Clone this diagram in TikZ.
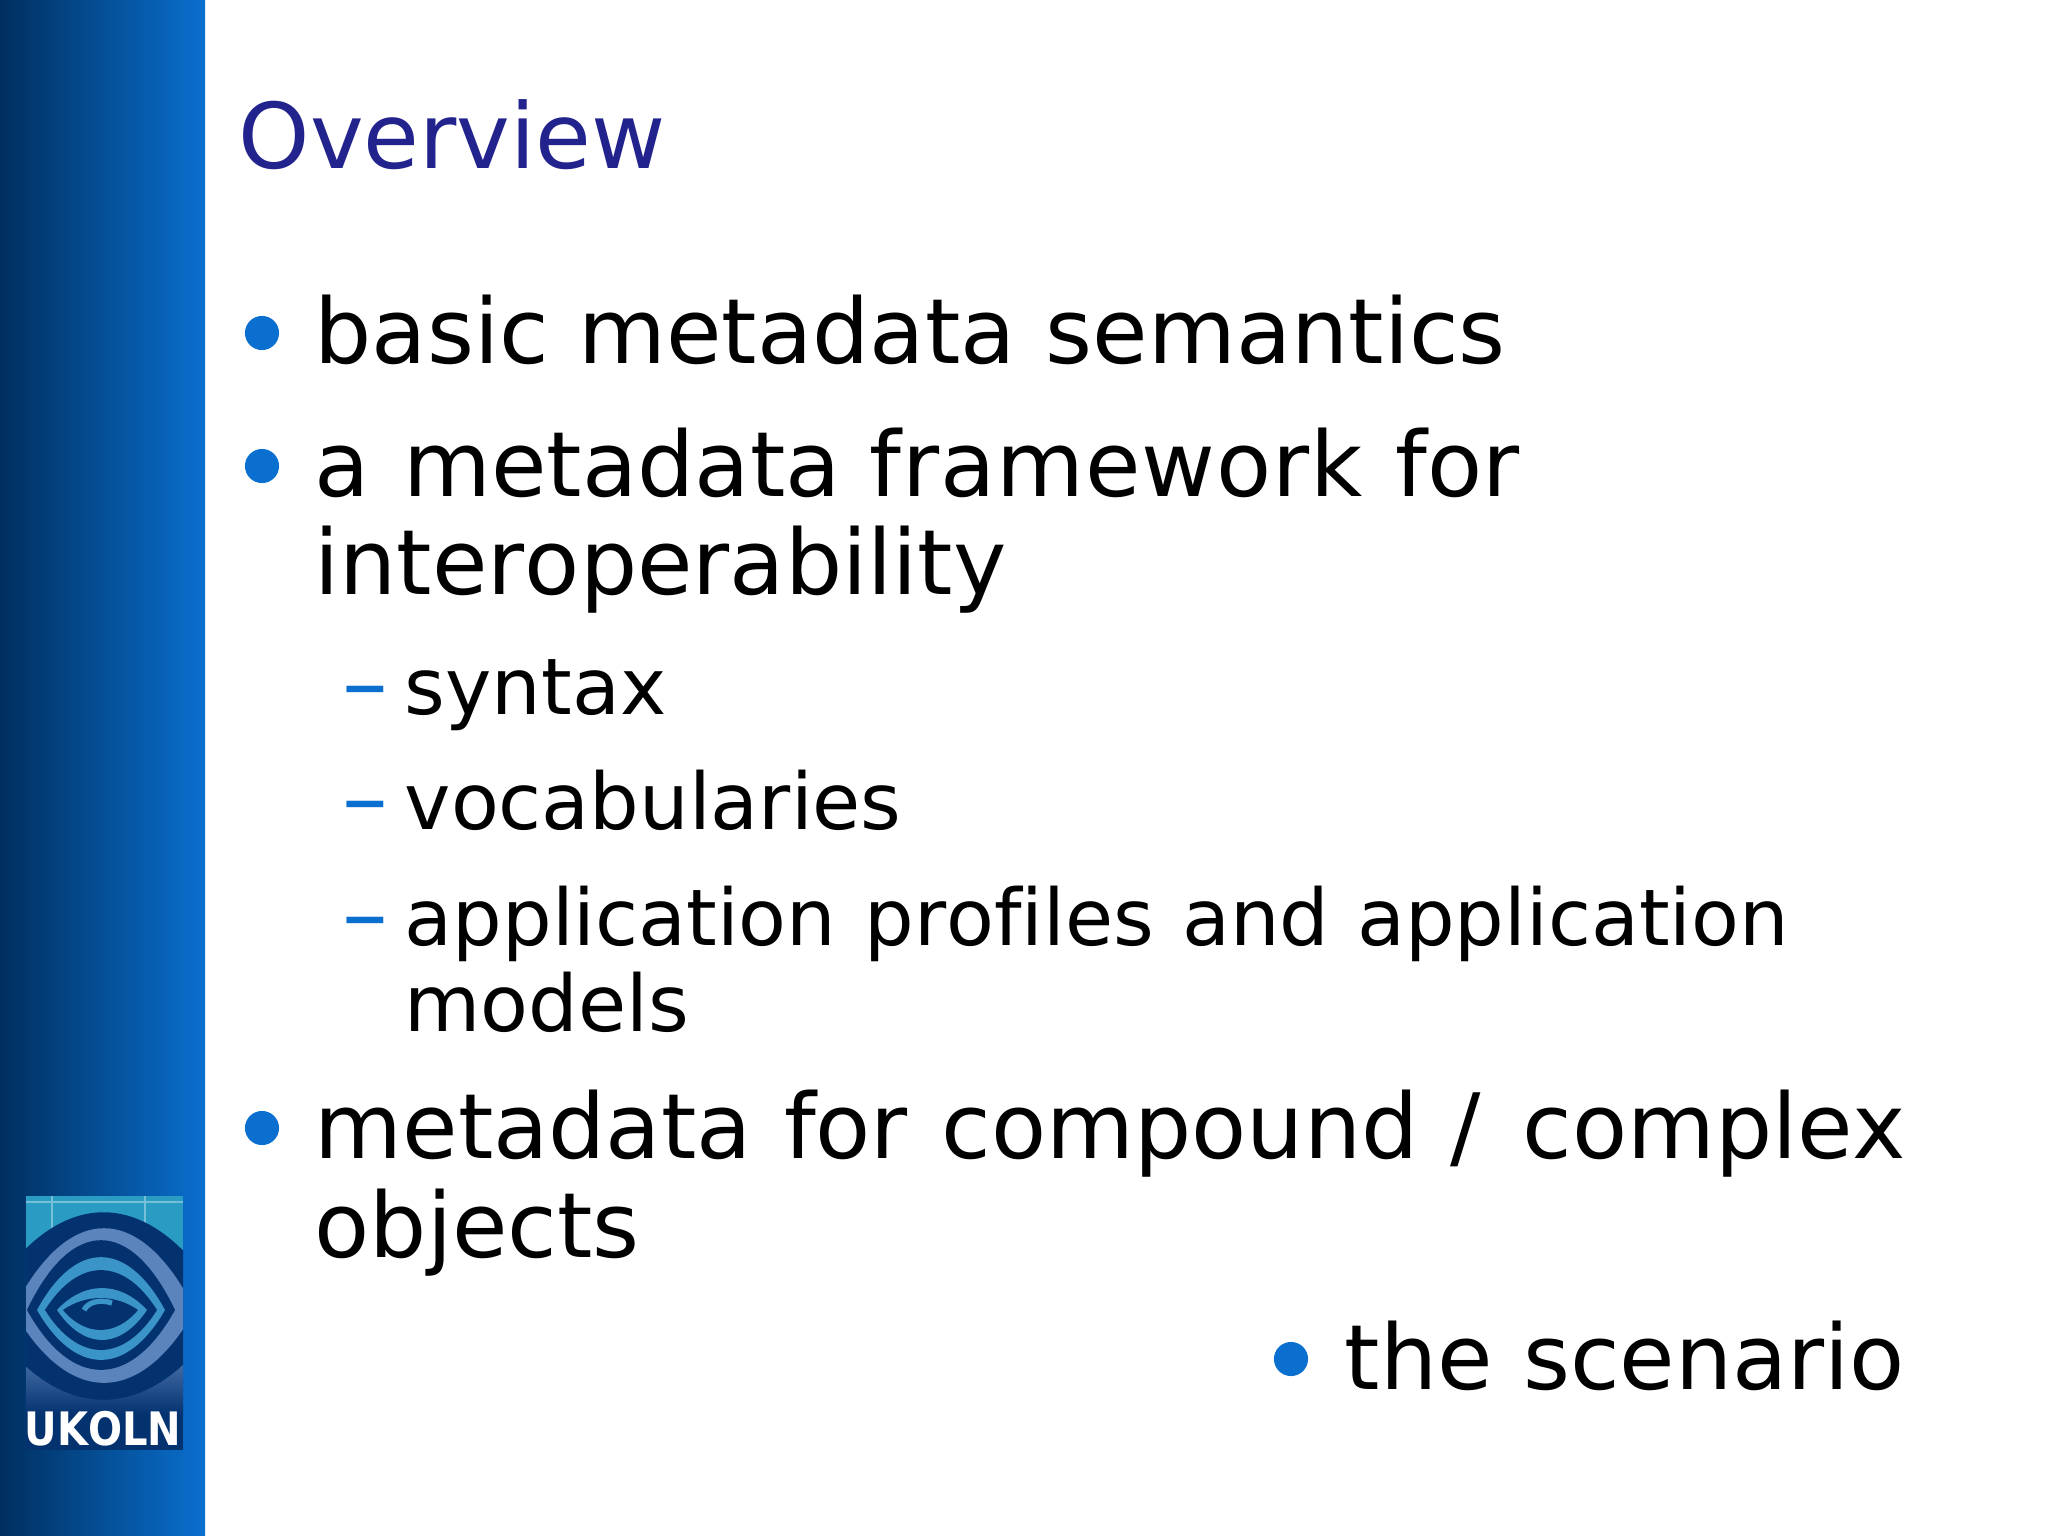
\documentclass[tikz,border=0pt]{standalone}
\usepackage{fontspec}
\setmainfont{DejaVu Sans}[Kerning=Off,Ligatures=NoCommon]
\newfontfamily\subitemfont{DejaVu Sans}[Kerning=Off,Ligatures=NoCommon,WordSpace=1.125]
\definecolor{titleblue}{HTML}{23238E}
\definecolor{bulletblue}{HTML}{0A6FCE}
\definecolor{sidedark}{HTML}{002F5F}
\definecolor{sidemid}{HTML}{04528F}
\definecolor{eyedark}{HTML}{04326F}
\definecolor{eyelight}{HTML}{3A94C8}
\definecolor{eyegrey}{HTML}{5C84BC}
\definecolor{eyeteal}{HTML}{2A9CC4}
\tikzset{
  headline/.style={anchor=base west, inner sep=0pt, text=titleblue, font=\fontsize{25.8pt}{25.8pt}\selectfont},
  mainitem/.style={anchor=base west, inner sep=0pt, font=\fontsize{25.65pt}{25.65pt}\selectfont},
  subitem/.style={anchor=base west, inner sep=0pt, font=\subitemfont\fontsize{22.25pt}{22.25pt}\selectfont},
  subdash/.style={anchor=base west, inner sep=0pt, text=bulletblue, font=\fontsize{26pt}{26pt}\selectfont},
  bulletdot/.style={circle, fill=bulletblue, inner sep=0pt, minimum size=9.7pt}
}
% left, right, top, bottom, colour
\newcommand{\eyelens}[5]{%
  \fill[#5] (#1,1310) .. controls (#1+0.3*#2-0.3*#1,1.33*#3-432.3) and (#2-0.3*#2+0.3*#1,1.33*#3-432.3) .. (#2,1310)
    .. controls (#2-0.3*#2+0.3*#1,1.33*#4-432.3) and (#1+0.3*#2-0.3*#1,1.33*#4-432.3) .. (#1,1310) -- cycle;}
\begin{document}
\begin{tikzpicture}[x=0.01cm, y=-0.01cm]
  \useasboundingbox (0,0) rectangle (2048,1536);
  % Side bar
  \shade[left color=sidedark, middle color=sidemid, right color=bulletblue] (0,0) rectangle (205,1536);
  % Logo
  \begin{scope}
    \clip (26,1196) rectangle (183,1450);
    \fill[eyeteal] (26,1196) rectangle (183,1290);
    \shade[top color=eyegrey, bottom color=eyedark] (26,1340) rectangle (183,1415);
    \fill[eyedark] (26,1415) rectangle (183,1450);
    \draw[white!60!eyeteal, opacity=0.6] (26,1202) -- (183,1202) (52,1196) -- (52,1250) (145,1196) -- (145,1225);
    \eyelens{-20}{227}{1212}{1400}{eyedark}
    \eyelens{13}{195}{1228}{1383}{eyegrey}
    \eyelens{27}{175}{1240}{1370}{eyedark}
    \eyelens{37}{165}{1257}{1360}{eyelight}
    \eyelens{45}{157}{1270}{1350}{eyedark}
    \eyelens{57}{147}{1288}{1340}{eyelight}
    \eyelens{63}{138}{1298}{1330}{eyedark}
    \draw[eyelight, line width=1.5pt] (84,1310) .. controls (88,1302) and (100,1299) .. (112,1303);
    \node[anchor=base, inner sep=0pt, yscale=1.15, text=white, font=\fontsize{11.4pt}{11.4pt}\bfseries\selectfont] (logotext) at (103,1445) {UKOLN};
  \end{scope}
  % Title
  \node[headline] (overview) at (238,168) {Overview};
  % Main items
  \node[bulletdot] (dota) at (262,333) {};
  \node[mainitem] (basic) at (314,363) {basic\kern.3pt{} metadata\kern.4pt{} semantics};
  \node[bulletdot] (dotb) at (262,466) {};
  \node[mainitem] (framework) at (314,496) {a\kern1.4pt{} metadata {\addfontfeature{LetterSpace=1}framework}\kern1.4pt{} for};
  \node[mainitem] (interop) at (314,594) {interoperability};
  % Sub items
  \node[subdash] (dasha) at (342,714) {–};
  \node[subitem] (syntax) at (404,714) {syntax};
  \node[subdash] (dashb) at (342,829) {–};
  \node[subitem] (vocab) at (404,829) {vocabularies};
  \node[subdash] (dashc) at (342,945) {–};
  \node[subitem] (profiles) at (404,945) {application profiles and application};
  \node[subitem] (models) at (404,1031) {models};
  % Last items
  \node[bulletdot] (dotc) at (262,1128) {};
  \node[mainitem] (compound) at (314,1158) {metadata\kern1pt{} for\kern1.4pt{} compound\kern1pt{} /\kern3.6pt{} complex};
  \node[mainitem] (objects) at (314,1257) {objects};
  \node[bulletdot] (dotd) at (1291,1359) {};
  \node[mainitem] (scenario) at (1344,1389) {the\kern.5pt{} scenario};
\end{tikzpicture}
\end{document}
